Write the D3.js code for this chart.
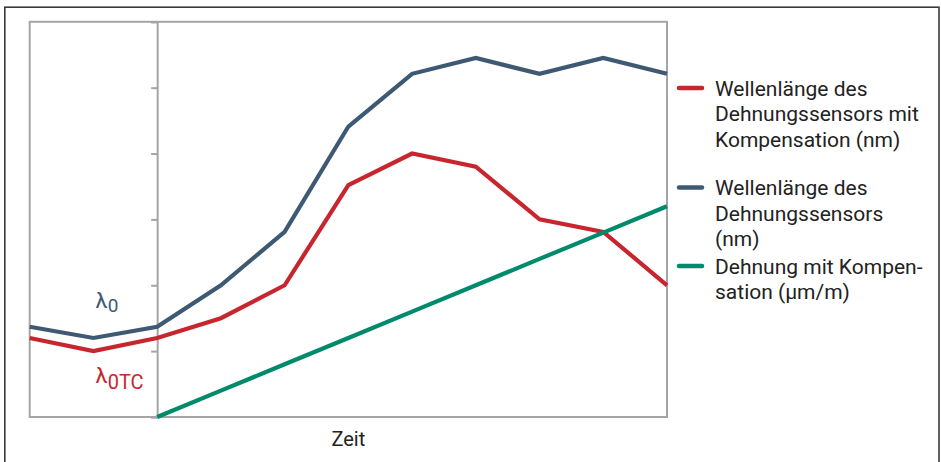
<!DOCTYPE html>
<html>
<head>
<meta charset="utf-8">
<script src="https://cdn.jsdelivr.net/npm/d3@7"></script>
<style>
  html, body { margin: 0; padding: 0; background: #fff; }
  svg { display: block; font-family: Roboto, "Noto Sans", sans-serif; }
</style>
</head>
<body>
<svg id="chart" width="941" height="462"></svg>
<script>
// Time steps (unlabelled) along the x axis
const steps = [0, 1, 2, 3, 4, 5, 6, 7, 8, 9, 10];
// Wavelength of the strain sensor (nm)
const wavelength = [1.37, 1.2, 1.37, 2.0, 2.81, 4.41, 5.21, 5.45, 5.21, 5.45, 5.21];
// Wavelength of the strain sensor with compensation (nm)
const wavelengthComp = [1.2, 1.0, 1.2, 1.5, 2.0, 3.52, 4.0, 3.8, 3.0, 2.81, 2.0];
// Strain with compensation (µm/m); starts at the reference time
const strainComp = [null, null, 0, 0.4, 0.8, 1.2, 1.6, 2.0, 2.4, 2.8, 3.2];
// Y tick positions (no labels)
const yTicks = [0, 1, 2, 3, 4, 5, 6];
// Legend entries
const legendItems = [
  { color: "#c7262f", lines: ["Wellenlänge des", "Dehnungssensors mit", "Kompensation (nm)"] },
  { color: "#3e5a72", lines: ["Wellenlänge des", "Dehnungssensors", "(nm)"] },
  { color: "#008a6c", lines: ["Dehnung mit Kompen-", "sation (µm/m)"] }
];

const svg = d3.select("#chart");
const colRed = legendItems[0].color, colBlue = legendItems[1].color, colGreen = legendItems[2].color;
const gray = "#a5a5a8";

const x = d3.scaleLinear().domain([0, 10]).range([29.7, 667]);
const y = d3.scaleLinear().domain([0, 6]).range([417, 21.8]);

// outer frame
svg.append("rect")
  .attr("x", 4.8).attr("y", 7.2).attr("width", 934.2).attr("height", 470)
  .attr("fill", "none").attr("stroke", "#3a3a3a").attr("stroke-width", 1.6);

// plot frame
svg.append("rect")
  .attr("x", x(0)).attr("y", y(6))
  .attr("width", x(10) - x(0)).attr("height", y(0) - y(6))
  .attr("fill", "none").attr("stroke", gray).attr("stroke-width", 2);

// y axis at the reference time
const yAxis = d3.axisLeft(y).tickValues(yTicks).tickSize(6).tickFormat("");
const gy = svg.append("g").attr("transform", `translate(${x(2)},0)`).call(yAxis);
gy.select(".domain").attr("stroke", gray).attr("stroke-width", 2);
gy.selectAll(".tick line").attr("stroke", gray).attr("stroke-width", 2);

// x axis label
svg.append("text")
  .attr("x", (x(0) + x(10)) / 2).attr("y", 445.5)
  .attr("text-anchor", "middle").attr("font-size", 20).attr("fill", "#222")
  .text("Zeit");

// series lines
const line = d3.line()
  .defined(d => d[1] !== null)
  .x(d => x(d[0])).y(d => y(d[1]));

[[wavelengthComp, colRed], [wavelength, colBlue], [strainComp, colGreen]].forEach(([vals, c]) => {
  svg.append("path")
    .datum(steps.map((s, i) => [s, vals[i]]))
    .attr("d", line)
    .attr("fill", "none").attr("stroke", c)
    .attr("stroke-width", 4.2).attr("stroke-linejoin", "miter");
});

// lambda annotations
const l0 = svg.append("text").attr("x", 95.5).attr("y", 308).attr("fill", colBlue).attr("font-size", 22);
l0.append("tspan").text("λ");
l0.append("tspan").attr("dy", 4).attr("font-size", 19).text("0");

const l0tc = svg.append("text").attr("x", 95.5).attr("y", 383).attr("fill", colRed).attr("font-size", 22);
l0tc.append("tspan").text("λ");
l0tc.append("tspan").attr("dy", 6).attr("font-size", 20).text("0TC");

// legend
const legendTop = [88, 187.5, 266];
legendItems.forEach((item, i) => {
  const g = svg.append("g").attr("transform", `translate(0,${legendTop[i]})`);
  g.append("line")
    .attr("x1", 679).attr("x2", 702).attr("y1", 0).attr("y2", 0)
    .attr("stroke", item.color).attr("stroke-width", 4.5).attr("stroke-linecap", "round");
  const t = g.append("text").attr("font-size", 21).attr("fill", "#222");
  item.lines.forEach((ln, j) => {
    t.append("tspan").attr("x", 715).attr("y", 7.5 + j * 25.5).text(ln);
  });
});
</script>
</body>
</html>
